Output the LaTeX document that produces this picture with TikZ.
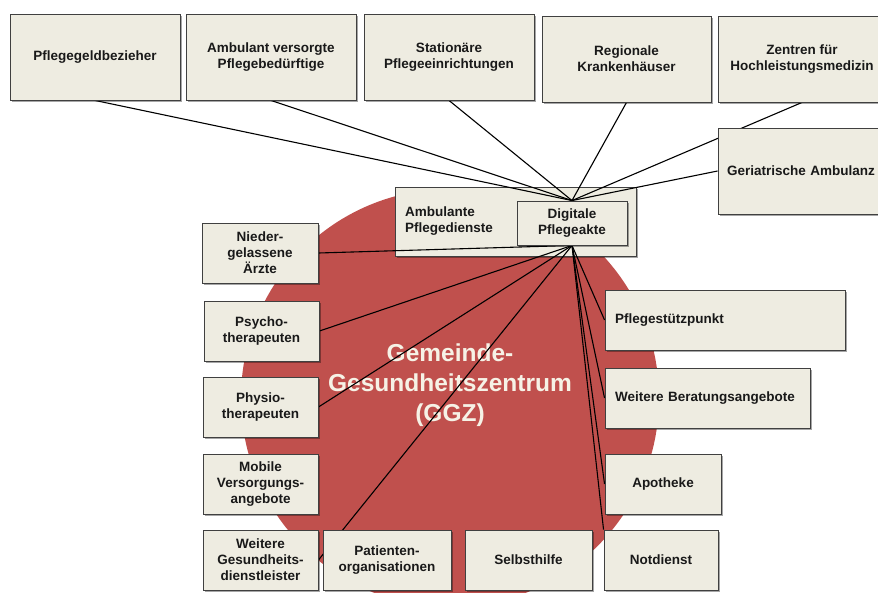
\documentclass[tikz,border=0pt]{standalone}
\usepackage{fontspec}
\setmainfont{Liberation Sans}
\usetikzlibrary{shadows}
\definecolor{ggzred}{RGB}{192,80,77}
\definecolor{boxfill}{RGB}{238,236,225}
\definecolor{ggztext}{RGB}{246,242,230}
\pgfdeclarelayer{bg}
\pgfdeclarelayer{links}
\pgfsetlayers{bg,links,main}

\begin{document}
\begin{tikzpicture}[x=1pt, y=-1pt,
        box/.style={draw=black!75, line width=0.9pt, fill=boxfill, text=black!90,
            font=\bfseries\fontsize{13.5}{16}\selectfont, align=center, inner sep=0pt,
            drop shadow={shadow xshift=1.5pt, shadow yshift=-1.5pt, fill=black, opacity=0.35}},
        leftbox/.style={box, align=left, inner xsep=10pt},
        topbox/.style={box, minimum width=170, minimum height=86},
        sidebox/.style={box, minimum width=115, minimum height=60},
        ggz/.style={text=ggztext, font=\bfseries\fontsize{24.5}{30}\selectfont, align=center},
        link/.style={draw=black, line width=1.1pt}]
        \useasboundingbox (0,0) rectangle (878,592);

        \begin{pgfonlayer}{bg}
        \fill [ggzred] (450,398) circle [radius=209pt];
        \node [ggz] (ggz) at (450,385) {Gemeinde-\\Gesundheitszentrum\\(GGZ)};
        \node [leftbox, text width=221, minimum width=241, minimum height=69] (apd) at (515.5,221.5) {Ambulante\\Pflegedienste};
        \end{pgfonlayer}

        \node [topbox] (pgb) at (95,57) {Pflegegeldbezieher};
        \node [topbox] (avp) at (271,57) {Ambulant versorgte\\Pflegebedürftige};
        \node [topbox] (spe) at (449,57) {Stationäre\\Pflegeeinrichtungen};
        \node [topbox, minimum width=169] (rkh) at (626.5,59) {Regionale\\Krankenhäuser};
        \node [topbox, minimum width=168] (zhm) at (802,59) {Zentren für\\Hochleistungsmedizin};
        \node [leftbox, inner xsep=9pt, text width=152, minimum width=170, minimum height=86] (gam) at (803,171) {Geriatrische Ambulanz};

        \node [box, minimum width=110, minimum height=44] (dpa) at (572,223) {Digitale\\Pflegeakte};

        \node [sidebox, minimum width=116] (nae) at (260,253) {Nieder-\\gelassene\\Ärzte};
        \node [sidebox] (pth) at (261.5,331) {Psycho-\\therapeuten};
        \node [sidebox] (phy) at (260.5,407) {Physio-\\therapeuten};
        \node [sidebox] (mva) at (260.5,484) {Mobile\\Versorgungs-\\angebote};
        \node [sidebox] (wgd) at (260.5,560) {Weitere\\Gesundheits-\\dienstleister};
        \node [sidebox, minimum width=128] (pog) at (387,560) {Patienten-\\organisationen};
        \node [sidebox, minimum width=127] (slh) at (528.5,560) {Selbsthilfe};
        \node [sidebox, minimum width=114] (nod) at (661,560) {Notdienst};
        \node [sidebox, minimum width=116] (apo) at (663,484) {Apotheke};
        \node [leftbox, text width=185, minimum width=205, minimum height=60] (wba) at (707.5,398) {Weitere Beratungsangebote};
        \node [leftbox, text width=220, minimum width=240, minimum height=60] (psp) at (725,320) {Pflegestützpunkt};

        \begin{pgfonlayer}{links}
        \draw [link] (dpa.north) -- (pgb.south);
        \draw [link] (dpa.north) -- (avp.south);
        \draw [link] (dpa.north) -- (spe.south);
        \draw [link] (dpa.north) -- (rkh.south);
        \draw [link] (dpa.north) -- (zhm.south);
        \draw [link] (dpa.north) -- (gam.west);
        \draw [link] (dpa.south) -- (nae.east);
        \draw [link] (dpa.south) -- (pth.east);
        \draw [link] (dpa.south) -- (phy.east);
        \draw [link] (dpa.south) -- (wgd.east);
        \draw [link] (dpa.south) -- (psp.west);
        \draw [link] (dpa.south) -- (wba.west);
        \draw [link] (dpa.south) -- (apo.west);
        \draw [link] (dpa.south) -- (nod.north west);
        \end{pgfonlayer}
\end{tikzpicture}
\end{document}
